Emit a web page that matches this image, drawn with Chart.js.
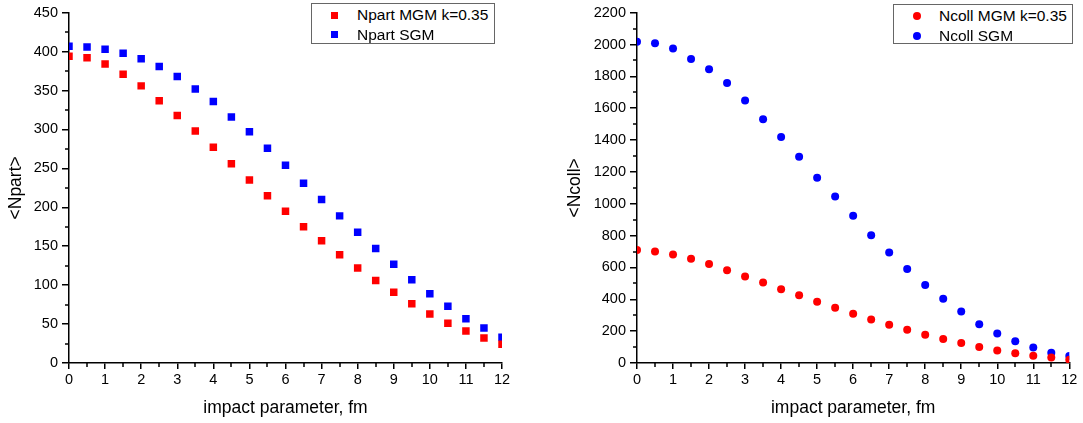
<!DOCTYPE html>
<html><head><meta charset="utf-8">
<script src="https://cdn.jsdelivr.net/npm/chart.js@4/dist/chart.umd.min.js"></script>
<style>
html,body{margin:0;padding:0;background:#fff;}
#wrap{position:relative;width:1083px;height:423px;overflow:hidden;background:#fff;}
canvas{position:absolute;top:0;}
.legend{position:absolute;border:1px solid #666;background:#fff;font-family:'Liberation Sans',Arial,sans-serif;font-size:15.5px;color:#000;box-sizing:border-box;}
.legend .row{position:absolute;left:0;height:20px;line-height:20px;white-space:nowrap;}
.legend .mk{position:absolute;}
.legend .tx{position:absolute;}
</style>
</head><body>
<div id="wrap">
  <canvas id="c1" width="541" height="423" style="left:0;width:541px;height:423px"></canvas>
  <canvas id="c2" width="542" height="423" style="left:541px;width:542px;height:423px"></canvas>
  <div id="lg1" class="legend" style="left:311px;top:3px;width:184px;height:41px"></div>
  <div id="lg2" class="legend" style="left:893px;top:4px;width:180px;height:40px"></div>
</div>
<script>
// ---- data ----
const impactParameter = [0,0.5,1,1.5,2,2.5,3,3.5,4,4.5,5,5.5,6,6.5,7,7.5,8,8.5,9,9.5,10,10.5,11,11.5,12];
const npartMGM = [394,392,384,371,356,337,318,298,277,256,235,215,195,175,157,139,122,106,91,76,63,51,41,32,24];
const npartSGM = [407,406,403,398,391,381,368,352,336,316,297,276,254,231,210,189,168,147,127,107,89,73,57,45,33];
const ncollMGM = [709,701,682,655,622,582,544,505,463,425,384,347,309,273,240,209,178,150,125,100,78,61,46,34,21];
const ncollSGM = [2018,2008,1975,1910,1845,1758,1648,1531,1420,1295,1163,1046,924,803,694,590,490,403,323,244,186,136,98,65,44];
const labelsLeft = ['Npart MGM k=0.35','Npart SGM'];
const labelsRight = ['Ncoll MGM k=0.35','Ncoll SGM'];
const xTitle = 'impact parameter, fm';
const yTitleLeft = '<Npart>';
const yTitleRight = '<Ncoll>';

const FONT = "'Liberation Sans', Arial, sans-serif";
const RED = '#ff0000', BLUE = '#0000ff';

function pts(ys){ return impactParameter.map((x,i)=>({x:x,y:ys[i]})); }

const minorTicks = {
  id:'minorTicks',
  afterDraw(chart, args, opts){
    const ctx = chart.ctx, xs = chart.scales.x, ys = chart.scales.y;
    ctx.save(); ctx.strokeStyle='#000'; ctx.lineWidth=1.5;
    ctx.beginPath();
    for (let v = xs.min + opts.xStep; v < xs.max; v += 2*opts.xStep){
      const p = Math.round(xs.getPixelForValue(v));
      ctx.moveTo(p, xs.top); ctx.lineTo(p, xs.top+4);
    }
    for (let v = ys.min + opts.yStep; v < ys.max; v += 2*opts.yStep){
      const p = Math.round(ys.getPixelForValue(v));
      ctx.moveTo(ys.right, p); ctx.lineTo(ys.right-4, p);
    }
    ctx.stroke(); ctx.restore();
  }
};

function makeChart(id, sets, yMax, yStep, yTitle, yWidth, padRight, titlePadTop, style, radius){
  return new Chart(document.getElementById(id), {
    type:'scatter',
    data:{datasets: sets.map(s=>({label:s.label, data:pts(s.data), backgroundColor:s.color, borderColor:s.color,
      borderWidth:0, pointStyle:style, pointRadius:radius, pointHoverRadius:radius, showLine:false, clip:0}))},
    plugins:[minorTicks],
    options:{
      responsive:false, animation:false, devicePixelRatio:1,
      layout:{padding:{left:0, top:11, right:padRight, bottom:0}},
      plugins:{legend:{display:false}, tooltip:{enabled:false}, minorTicks:{xStep:0.5, yStep:yStep/2}},
      scales:{
        x:{type:'linear', min:0, max:12,
          ticks:{stepSize:1, color:'#000', font:{family:FONT, size:14.5}, padding:2, maxRotation:0, callback:v=>String(v)},
          grid:{drawOnChartArea:false, color:'#000', lineWidth:1.5, tickLength:6},
          border:{color:'#000', width:1.5},
          title:{display:true, text:xTitle, color:'#000', font:{family:FONT, size:17.5}, padding:{top:0,bottom:4.5}},
          afterFit(s){ s.height = 60; }
        },
        y:{type:'linear', min:0, max:yMax,
          ticks:{stepSize:yStep, color:'#000', font:{family:FONT, size:14.5}, padding:4, callback:v=>String(v)},
          grid:{drawOnChartArea:false, color:'#000', lineWidth:1.5, tickLength:7},
          border:{color:'#000', width:1.5},
          title:{display:true, text:yTitle, color:'#000', font:{family:FONT, size:17.5}, padding:{top:titlePadTop,bottom:0}},
          afterFit(s){ s.width = yWidth; }
        }
      }
    }
  });
}

const ch1 = makeChart('c1', [{label:labelsLeft[0], data:npartMGM, color:RED},{label:labelsLeft[1], data:npartSGM, color:BLUE}],
  450, 50, yTitleLeft, 69, 39, 5.5, 'rect', 5.3);
const ch2 = makeChart('c2', [{label:labelsRight[0], data:ncollMGM, color:RED},{label:labelsRight[1], data:ncollSGM, color:BLUE}],
  2200, 200, yTitleRight, 96, 13.7, 24, 'circle', 4);

function buildLegend(el, chart, circle){
  chart.data.datasets.forEach((d,i)=>{
    const row = document.createElement('div'); row.className='row';
    row.style.top = (i===0 ? 1 : 20.5) + 'px'; row.style.width='100%';
    const mk = document.createElement('span'); mk.className='mk';
    const sz = circle ? 8 : 7;
    mk.style.cssText = 'position:absolute;left:'+(22.5-sz/2)+'px;top:'+(10-sz/2)+'px;width:'+sz+'px;height:'+sz+'px;background:'+d.backgroundColor+';'+(circle?'border-radius:50%;':'');
    const tx = document.createElement('span'); tx.className='tx'; tx.style.left='45px'; tx.textContent=d.label;
    row.appendChild(mk); row.appendChild(tx); el.appendChild(row);
  });
}
buildLegend(document.getElementById('lg1'), ch1, false);
buildLegend(document.getElementById('lg2'), ch2, true);
</script>
</body></html>
